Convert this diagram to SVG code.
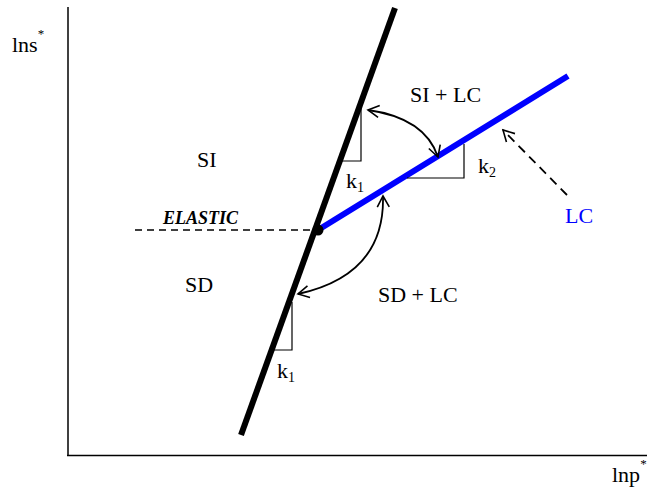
<svg xmlns="http://www.w3.org/2000/svg" width="647" height="489" viewBox="0 0 647 489">
<defs>
<marker id="ah" viewBox="-12 -8 14 16" refX="0" refY="0" markerWidth="14" markerHeight="16" markerUnits="userSpaceOnUse" orient="auto-start-reverse">
<polyline points="-11,-6 0,0 -11,6" fill="none" stroke="#000" stroke-width="1.6"/>
</marker>
</defs>
<style>
text{font-family:"Liberation Serif","Times New Roman",serif;font-size:22px;fill:#000}
.sub{font-size:14px}
.sup{font-size:13px}
.thin{fill:none;stroke:#000;stroke-width:1.2}
.arc{fill:none;stroke:#000;stroke-width:1.8}
</style>
<rect width="647" height="489" fill="#fff"/>
<g id="axes">
<line x1="68" y1="7" x2="68" y2="456" stroke="#000" stroke-width="1.5"/>
<line x1="67" y1="455.5" x2="647" y2="455.5" stroke="#000" stroke-width="1.5"/>
<text x="12" y="52">lns<tspan class="sup" dy="-14">*</tspan></text>
<text x="612" y="482">lnp<tspan class="sup" dy="-14">*</tspan></text>
</g>
<g id="connectors">
<line x1="135" y1="230" x2="318" y2="230" stroke="#000" stroke-width="1.5" stroke-dasharray="7,5"/>
<line x1="241" y1="435" x2="395" y2="8" stroke="#000" stroke-width="6"/>
<line x1="318" y1="230" x2="568" y2="76" stroke="#0000ff" stroke-width="6"/>
<circle cx="318" cy="230" r="5.5" fill="#000"/>
<path class="arc" d="M368,110 Q425,118 438,157" marker-start="url(#ah)" marker-end="url(#ah)"/>
<path class="arc" d="M383,196 Q385,275 298,294" marker-start="url(#ah)" marker-end="url(#ah)"/>
<line x1="567" y1="195" x2="503" y2="130" stroke="#000" stroke-width="1.8" stroke-dasharray="9,6" marker-end="url(#ah)"/>
<polyline class="thin" points="361,108 361,161 342,161"/>
<polyline class="thin" points="407,178 464,178 464,144"/>
<polyline class="thin" points="292,302 292,350 274,350"/>
</g>
<g id="labels">
<text x="197" y="167">SI</text>
<text x="185" y="292">SD</text>
<text x="163" y="224" style="font-weight:bold;font-style:italic;font-size:18px">ELASTIC</text>
<text x="410" y="102">SI + LC</text>
<text x="378" y="302">SD + LC</text>
<text x="346" y="188">k<tspan class="sub" dy="4">1</tspan></text>
<text x="478" y="173">k<tspan class="sub" dy="4">2</tspan></text>
<text x="277" y="378">k<tspan class="sub" dy="4">1</tspan></text>
<text x="565" y="223" style="fill:#0000ff">LC</text>
</g>
</svg>
